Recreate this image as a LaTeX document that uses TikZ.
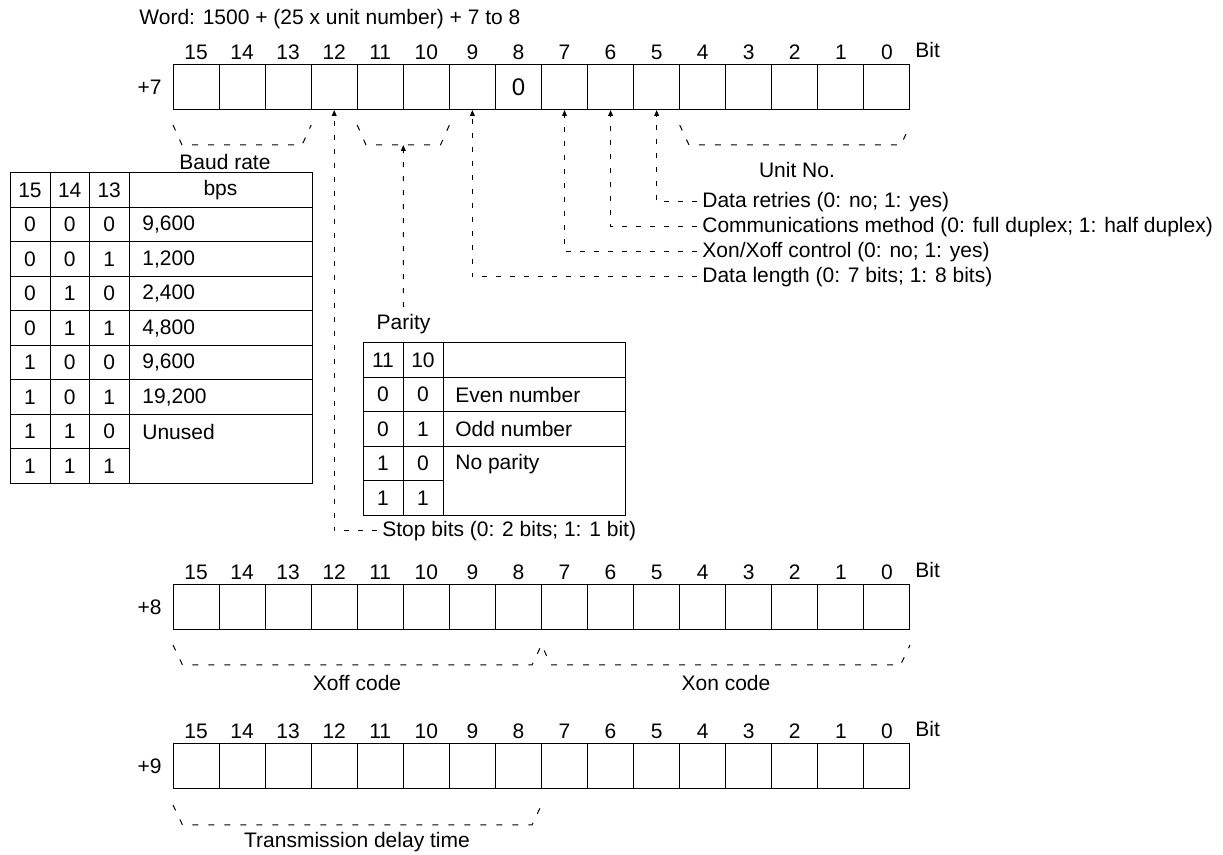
\documentclass[tikz,border=0pt]{standalone}
\usepackage{fontspec}
\setmainfont{Liberation Sans}
\usepackage{tikz}
\usetikzlibrary{arrows.meta,positioning}

\tikzset{
  bitcell/.style={draw, line width=0.5pt, minimum width=23.03pt, minimum height=22.5pt,
    inner sep=0pt, outer sep=0pt},
  bitno/.style={inner sep=0pt},
  note/.style={inner sep=2.5pt, anchor=west},
  lead/.style={line width=0.5pt, dash pattern=on 2.5pt off 4.5pt,
    -{Triangle[length=3pt,width=2.4pt]}},
  span/.style={line width=0.5pt, dash pattern=on 3pt off 5pt},
  grid/.style={line width=0.5pt},
  val/.style={inner sep=0pt, anchor=west}
}

\begin{document}
\begin{tikzpicture}[x=0.5pt,y=0.5pt,font=\fontsize{10.5}{12.6}\selectfont]
    \useasboundingbox (0,0) rectangle (1223,-855);

    % Word +7, +8, +9
    \node[anchor=base west, inner sep=0pt] (title) at (139,-24.5) {Word: 1500 + (25 x unit number) + 7 to 8};
    \foreach \r/\y/\w in {a/87.5/7, b/607.5/8, c/766.5/9} {
      \foreach \i in {0,...,15} {
        \pgfmathtruncatemacro{\b}{15-\i}
        \node[bitcell] (\r\b) at ({196.03+46.06*\i},-\y) {};
        \node[bitno, above=2.75pt of \r\b, anchor=base] (n\r\b) {\b};
      }
      \node[left=5.5pt of \r15, inner sep=0pt] (w\w) {+\w};
      \node[anchor=base west, inner sep=0pt] (bit\w) at (915,{-\y+29.5}) {Bit};
    }
    \node[font=\fontsize{12}{14}\selectfont] (zero) at (a8) {0};

    % Braces under +7
    \draw[span] (173,-125) -- (182,-145) -- (302,-145) -- (311.2,-125);
    \draw[span] (357.2,-125) -- (366,-145) -- (440.5,-145) -- (449.4,-125);
    \coordinate (pb) at (403.3,-145);
    \draw[span] (679.7,-125) -- (689,-145) -- (901,-145) -- (910,-125);
    \node (baud) at (225,-162) {Baud rate};
    \node (unitno) at (797,-170) {Unit No.};

    % Bit notes
    \node[note] (retry) at (697,-202) {Data retries (0: no; 1: yes)};
    \node[note] (method) at (697,-227) {Communications method (0: full duplex; 1: half duplex)};
    \node[note] (xonxoff) at (697,-252) {Xon/Xoff control (0: no; 1: yes)};
    \node[note] (dlen) at (697,-277) {Data length (0: 7 bits; 1: 8 bits)};
    \node[note] (stop) at (377,-531) {Stop bits (0: 2 bits; 1: 1 bit)};
    \draw[lead] (retry.west) -| (a5.south);
    \draw[lead] (method.west) -| (a6.south);
    \draw[lead] (xonxoff.west) -| (a7.south);
    \draw[lead] (dlen.west) -| (a9.south);
    \draw[lead] (stop.west) -| (a12.south);

    % Baud rate table
    \draw[grid] (10,-173) rectangle (312,-483.5);
    \foreach \x in {50,89.5,129} \draw[grid] (\x,-173) -- (\x,-483.5);
    \foreach \k in {1,...,7} \draw[grid] (10,{-173-34.5*\k}) -- (312,{-173-34.5*\k});
    \draw[grid] (10,-449) -- (129,-449);
    \node (bh15) at (30,-190.25) {15};
    \node (bh14) at (69.75,-190.25) {14};
    \node (bh13) at (109.25,-190.25) {13};
    \node (bhbps) at (220.5,-190.25) {bps};
    \foreach \p/\q/\s/\v [count=\k] in {0/0/0/9{,}600, 0/0/1/1{,}200, 0/1/0/2{,}400,
        0/1/1/4{,}800, 1/0/0/9{,}600, 1/0/1/19{,}200, 1/1/0/Unused} {
      \node (bd\k-15) at (30,{-190.25-34.5*\k}) {\p};
      \node (bd\k-14) at (69.75,{-190.25-34.5*\k}) {\q};
      \node (bd\k-13) at (109.25,{-190.25-34.5*\k}) {\s};
      \node[val] (bd\k-r) at (142,{-190.25-34.5*\k}) {\v};
    }
    \node (bd8-15) at (30,-466.25) {1};
    \node (bd8-14) at (69.75,-466.25) {1};
    \node (bd8-13) at (109.25,-466.25) {1};

    % Parity table
    \node (parity) at (403.5,-324) {Parity};
    \draw[lead] (parity.north) -- (pb);
    \draw[grid] (363,-343) rectangle (625,-515.5);
    \foreach \x in {403,443} \draw[grid] (\x,-343) -- (\x,-515.5);
    \foreach \k in {1,...,3} \draw[grid] (363,{-343-34.5*\k}) -- (625,{-343-34.5*\k});
    \draw[grid] (363,-481) -- (443,-481);
    \node (ph11) at (383,-360.25) {11};
    \node (ph10) at (423,-360.25) {10};
    \foreach \p/\q/\v [count=\k] in {0/0/Even number, 0/1/Odd number, 1/0/No parity} {
      \node (pt\k-11) at (383,{-360.25-34.5*\k}) {\p};
      \node (pt\k-10) at (423,{-360.25-34.5*\k}) {\q};
      \node[val] (pt\k-r) at (455,{-360.25-34.5*\k}) {\v};
    }
    \node (pt4-11) at (383,-498.25) {1};
    \node (pt4-10) at (423,-498.25) {1};

    % Braces under +8
    \draw[span] (173,-645) -- (182.5,-665) -- (532,-665) -- (541.5,-645)
      -- (551,-665) -- (900.5,-665) -- (910,-645);
    \node (xoff) at (357,-683) {Xoff code};
    \node (xon) at (726,-683) {Xon code};

    % Brace under +9
    \draw[span] (173,-805) -- (182.5,-825) -- (532,-825) -- (541.5,-805);
    \node (delay) at (357,-842) {Transmission delay time};
\end{tikzpicture}
\end{document}
